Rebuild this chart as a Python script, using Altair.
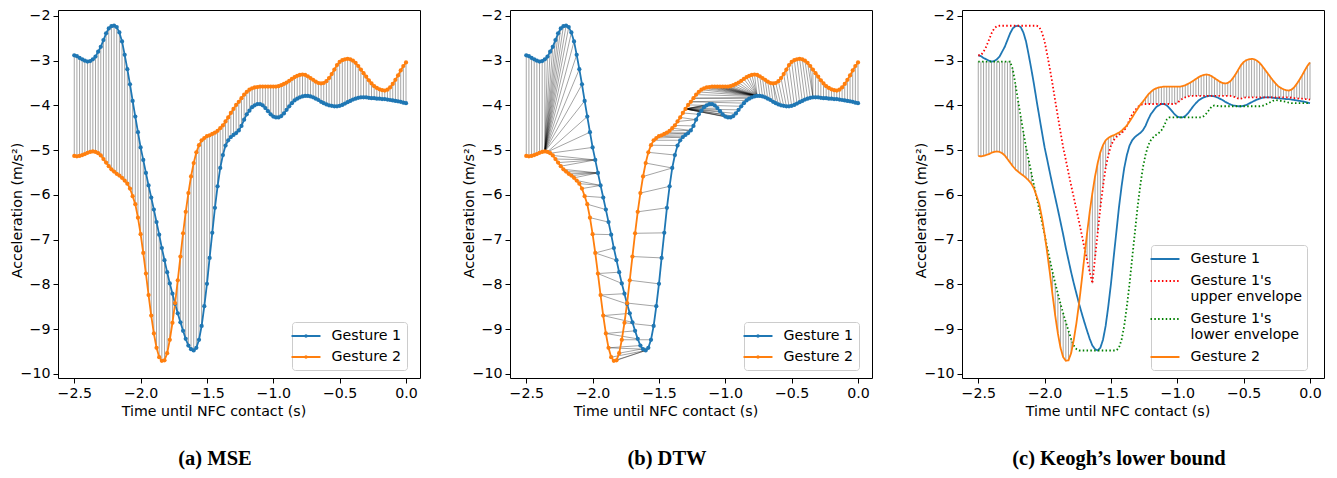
import altair as alt
import numpy as np
import pandas as pd

# ---------------- data ----------------
t = [round(-2.5 + 0.02 * i, 2) for i in range(126)]

gesture1 = [
    -2.88, -2.90, -2.94, -2.97, -3.00, -3.02, -3.01, -2.97, -2.91, -2.80,
    -2.69, -2.54, -2.39, -2.28, -2.23, -2.22, -2.25, -2.37, -2.57, -2.87,
    -3.19, -3.53, -3.90, -4.25, -4.60, -4.94, -5.22, -5.51, -5.79, -6.06,
    -6.33, -6.61, -6.89, -7.19, -7.46, -7.73, -7.98, -8.21, -8.44, -8.65,
    -8.85, -9.04, -9.22, -9.37, -9.45, -9.48, -9.42, -9.24, -8.93, -8.49,
    -7.99, -7.41, -6.85, -6.29, -5.81, -5.40, -5.11, -4.90, -4.78, -4.71,
    -4.66, -4.62, -4.56, -4.46, -4.32, -4.20, -4.12, -4.04, -4.00, -3.97,
    -3.97, -4.00, -4.06, -4.13, -4.20, -4.25, -4.27, -4.27, -4.24, -4.18,
    -4.10, -4.02, -3.95, -3.89, -3.85, -3.82, -3.80, -3.79, -3.79, -3.80,
    -3.82, -3.85, -3.88, -3.92, -3.95, -3.98, -4.00, -4.01, -4.02, -4.02,
    -4.01, -3.99, -3.96, -3.93, -3.90, -3.87, -3.85, -3.83, -3.82, -3.82,
    -3.82, -3.83, -3.84, -3.84, -3.85, -3.85, -3.86, -3.86, -3.87, -3.88,
    -3.89, -3.90, -3.91, -3.92, -3.94, -3.95,
]

gesture2 = [
    -5.13, -5.14, -5.13, -5.11, -5.09, -5.06, -5.04, -5.03, -5.04, -5.07,
    -5.12, -5.20, -5.28, -5.36, -5.43, -5.48, -5.53, -5.57, -5.62, -5.68,
    -5.75, -5.86, -6.03, -6.21, -6.51, -6.88, -7.30, -7.76, -8.24, -8.70,
    -9.10, -9.42, -9.63, -9.71, -9.70, -9.54, -9.24, -8.86, -8.42, -7.91,
    -7.38, -6.86, -6.38, -5.96, -5.59, -5.29, -5.05, -4.89, -4.78, -4.73,
    -4.69, -4.67, -4.64, -4.61, -4.57, -4.51, -4.45, -4.36, -4.27, -4.17,
    -4.08, -3.99, -3.92, -3.84, -3.76, -3.70, -3.65, -3.62, -3.60, -3.59,
    -3.58, -3.58, -3.58, -3.58, -3.58, -3.58, -3.58, -3.57, -3.55, -3.52,
    -3.49, -3.45, -3.41, -3.37, -3.34, -3.32, -3.31, -3.32, -3.35, -3.39,
    -3.43, -3.47, -3.50, -3.51, -3.50, -3.46, -3.39, -3.30, -3.20, -3.10,
    -3.03, -2.99, -2.97, -2.96, -2.97, -3.00, -3.05, -3.12, -3.20, -3.28,
    -3.36, -3.44, -3.51, -3.57, -3.61, -3.64, -3.66, -3.67, -3.65, -3.60,
    -3.52, -3.43, -3.33, -3.22, -3.12, -3.04,
]

# DTW correspondences (gesture-1 index, gesture-2 index)
dtw_anchors = [(0, 0), (23, 8), (45, 33), (77, 60), (88, 87), (125, 125)]
# the last stretch of the reference's warping path is a straight diagonal
dtw_band_last = 1.5

series_ab = ["Gesture 1", "Gesture 2"]
colors_ab = ["#1f77b4", "#ff7f0e"]
series_c = ["Gesture 1", "Gesture 1's|upper envelope", "Gesture 1's|lower envelope", "Gesture 2"]
colors_c = ["#1f77b4", "#ff0000", "#008000", "#ff7f0e"]
dashes_c = [[1, 0], [1.5, 2.3], [1.5, 2.3], [1, 0]]
window = 7  # envelope half-width in samples

x_ticks = [-2.5, -2.0, -1.5, -1.0, -0.5, 0.0]
y_ticks = [-10, -9, -8, -7, -6, -5, -4, -3, -2]
captions = ["(a) MSE", "(b) DTW", "(c) Keogh\u2019s lower bound"]

# ---------------- derived tables ----------------
a = np.array(gesture1)
b = np.array(gesture2)
n = len(a)

wide = pd.DataFrame({"t": t, "g1": gesture1, "g2": gesture2})
long_ab = pd.concat([
    pd.DataFrame({"t": t, "v": gesture1, "series": "Gesture 1"}),
    pd.DataFrame({"t": t, "v": gesture2, "series": "Gesture 2"}),
])


def seg_dtw(i0, j0, i1, j1, band=None):
    A = a[i0:i1 + 1]
    B = b[j0:j1 + 1]
    na, nb = len(A), len(B)
    D = np.full((na + 1, nb + 1), np.inf)
    D[0, 0] = 0.0
    for i in range(1, na + 1):
        for j in range(1, nb + 1):
            if band is not None and abs((i - 1) - (j - 1) * (na - 1) / max(nb - 1, 1)) > band:
                continue
            c = (A[i - 1] - B[j - 1]) ** 2
            D[i, j] = c + min(D[i - 1, j], D[i, j - 1], D[i - 1, j - 1])
    i, j = na, nb
    out = []
    while i > 0 and j > 0:
        out.append((i0 + i - 1, j0 + j - 1))
        k = int(np.argmin([D[i - 1, j - 1], D[i - 1, j], D[i, j - 1]]))
        if k == 0:
            i, j = i - 1, j - 1
        elif k == 1:
            i -= 1
        else:
            j -= 1
    return out[::-1]


path = []
for s in range(len(dtw_anchors) - 1):
    (i0, j0), (i1, j1) = dtw_anchors[s], dtw_anchors[s + 1]
    band = dtw_band_last if s == len(dtw_anchors) - 2 else None
    seg = seg_dtw(i0, j0, i1, j1, band)
    if path and seg and seg[0] == path[-1]:
        seg = seg[1:]
    path.extend(seg)

dtw = pd.DataFrame({
    "t1": [t[p] for p, q in path], "v1": [gesture1[p] for p, q in path],
    "t2": [t[q] for p, q in path], "v2": [gesture2[q] for p, q in path],
})

# Keogh envelope
upper = [float(a[max(0, k - window):k + window + 1].max()) for k in range(n)]
lower = [float(a[max(0, k - window):k + window + 1].min()) for k in range(n)]
lb_rows = []
for k in range(n):
    if gesture2[k] > upper[k]:
        lb_rows.append({"t": t[k], "y1": upper[k], "y2": gesture2[k]})
    elif gesture2[k] < lower[k]:
        lb_rows.append({"t": t[k], "y1": lower[k], "y2": gesture2[k]})
lb = pd.DataFrame(lb_rows)
long_c = pd.concat([
    pd.DataFrame({"t": t, "v": gesture1, "series": series_c[0]}),
    pd.DataFrame({"t": t, "v": upper, "series": series_c[1]}),
    pd.DataFrame({"t": t, "v": lower, "series": series_c[2]}),
    pd.DataFrame({"t": t, "v": gesture2, "series": series_c[3]}),
])

# ---------------- styling ----------------
X_DOM = [-2.6225, 0.1054]
Y_DOM = [-10.095, -1.868]
W, H = 362, 368
FONT = "DejaVu Sans"
FS = 14.2


def xenc(field):
    return alt.X(field, type="quantitative",
                 scale=alt.Scale(domain=X_DOM, nice=False, zero=False),
                 axis=alt.Axis(values=x_ticks, format=".1f",
                               title="Time until NFC contact (s)", titleX=155.5))


def yenc(field):
    return alt.Y(field, type="quantitative",
                 scale=alt.Scale(domain=Y_DOM, nice=False, zero=False),
                 axis=alt.Axis(values=y_ticks, format="d",
                               title="Acceleration (m/s\u00b2)", titleY=200, titleX=-34))


def legend(symbol, lx, ly, row_pad, label_expr=None):
    kw = dict(orient="none", legendX=lx, legendY=ly, title=None, symbolType=symbol,
              symbolSize=256, symbolStrokeWidth=1.8, labelFont=FONT, labelFontSize=FS,
              labelColor="black", fillColor="rgba(255,255,255,0.8)", strokeColor="#cccccc",
              cornerRadius=3, padding=5, rowPadding=row_pad, labelOffset=16.6, labelLimit=400)
    if label_expr:
        kw["labelExpr"] = label_expr
    return alt.Legend(**kw)


def caption(text):
    return alt.TitleParams(text=text, orient="bottom", anchor="middle", frame="bounds",
                           offset=31, font="Liberation Serif", fontSize=20.5,
                           fontWeight="bold", color="black")


LINE_DOT = "M-1.81,0L1.81,0M-0.1,0A0.1,0.1,0,1,1,0.1,0A0.1,0.1,0,1,1,-0.1,0"
LINE_ONLY = "M-1.81,0L1.81,0"
RULE = dict(color="black", opacity=0.45, strokeWidth=0.8)

color_ab = alt.Color("series:N", scale=alt.Scale(domain=series_ab, range=colors_ab),
                     legend=legend(LINE_DOT, 234, 312, 4))
lines_ab = alt.Chart(long_ab).mark_line(
    strokeWidth=1.8, point=alt.OverlayMarkDef(filled=True, size=18, opacity=1)
).encode(x=xenc("t"), y=yenc("v"), color=color_ab)

# (a) MSE
rules_a = alt.Chart(wide).mark_rule(**RULE).encode(x=xenc("t"), y=yenc("g1"), y2="g2")
panel_a = alt.layer(rules_a, lines_ab).properties(width=W, height=H, title=caption(captions[0]))

# (b) DTW
rules_b = alt.Chart(dtw).mark_rule(**RULE).encode(x=xenc("t1"), y=yenc("v1"), x2="t2", y2="v2")
panel_b = alt.layer(rules_b, lines_ab).properties(width=W, height=H, title=caption(captions[1]))

# (c) Keogh
leg_c = legend(LINE_ONLY, 189, 235, 5, "split(datum.label, '|')")
rules_c = alt.Chart(lb).mark_rule(**RULE).encode(x=xenc("t"), y=yenc("y1"), y2="y2")
lines_c = alt.Chart(long_c).mark_line(strokeWidth=1.8).encode(
    x=xenc("t"), y=yenc("v"),
    color=alt.Color("series:N", scale=alt.Scale(domain=series_c, range=colors_c), legend=leg_c),
    strokeDash=alt.StrokeDash("series:N", scale=alt.Scale(domain=series_c, range=dashes_c), legend=leg_c),
)
panel_c = alt.layer(rules_c, lines_c).properties(width=W, height=H, title=caption(captions[2]))

chart = alt.hconcat(panel_a, panel_b, panel_c, spacing=40).resolve_scale(
    color="independent", strokeDash="independent"
).properties(
    padding={"left": 1, "top": 0, "right": 0, "bottom": 0}
).configure_view(
    stroke="black", strokeWidth=1
).configure_axis(
    domain=False, grid=False, tickColor="black", tickSize=5, tickWidth=1,
    labelFont=FONT, labelFontSize=FS, labelColor="black", labelPadding=3,
    titleFont=FONT, titleFontSize=FS, titleFontWeight="normal", titleColor="black",
    titlePadding=4,
)

chart.save("out.html", embed_options={"renderer": "svg", "actions": False})
